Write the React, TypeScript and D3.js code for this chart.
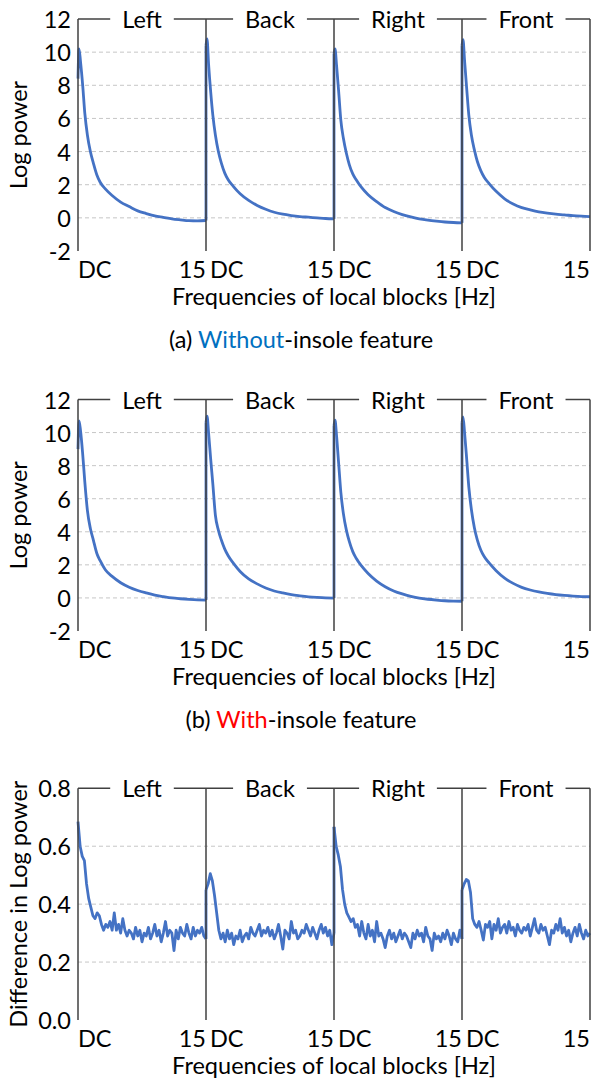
import { useEffect, useRef } from 'react';
import * as d3 from 'd3';

const W = 593;
const H = 1081;
const FONT = 'Lato, "Open Sans", sans-serif';
const FS = 23.5;

const sides = ['Left', 'Back', 'Right', 'Front'];
const bandHz = 15;
const tickStart = 'DC';
const tickEnd = '15';
const xTitle = 'Frequencies of local blocks [Hz]';

// sample frequencies (Hz) used by the two log power charts
const freqCurve = [0, 0.12, 0.3, 0.55, 0.8, 1.1, 1.45, 1.8, 2.2, 2.6, 3.2, 4, 5, 6, 7, 8, 9, 10, 11, 12, 13, 14, 15];

// (a) without insole feature
const withoutLeft = [8.4, 10.2, 9.4, 8.0, 6.3, 5.0, 4.0, 3.3, 2.6, 2.15, 1.75, 1.35, 0.95, 0.68, 0.42, 0.26, 0.12, 0.03, -0.06, -0.12, -0.17, -0.18, -0.16];
const withoutBack = [10.4, 10.8, 9.3, 7.6, 6.2, 5.0, 4.0, 3.3, 2.7, 2.3, 1.9, 1.45, 1.05, 0.75, 0.52, 0.34, 0.22, 0.14, 0.08, 0.04, 0.0, -0.04, -0.06];
const withoutRight = [9.9, 10.2, 9.2, 7.6, 5.9, 4.8, 3.9, 3.2, 2.65, 2.3, 1.85, 1.4, 0.98, 0.62, 0.38, 0.2, 0.06, -0.06, -0.14, -0.2, -0.25, -0.28, -0.3];
const withoutFront = [10.4, 10.75, 9.5, 7.8, 6.2, 5.0, 4.1, 3.4, 2.85, 2.45, 2.05, 1.6, 1.15, 0.84, 0.62, 0.48, 0.36, 0.28, 0.22, 0.18, 0.13, 0.1, 0.08];

// (b) with insole feature
const withLeft = [9.0, 10.7, 10.1, 8.7, 7.0, 5.3, 4.2, 3.5, 2.7, 2.25, 1.7, 1.3, 0.92, 0.65, 0.45, 0.3, 0.17, 0.08, 0.0, -0.05, -0.09, -0.12, -0.13];
const withBack = [10.6, 11.0, 10.0, 8.4, 6.9, 5.0, 4.1, 3.5, 2.95, 2.55, 2.1, 1.6, 1.15, 0.85, 0.6, 0.42, 0.3, 0.2, 0.13, 0.07, 0.03, 0.0, -0.01];
const withRight = [10.4, 10.75, 9.8, 8.1, 6.4, 5.1, 4.1, 3.4, 2.8, 2.4, 1.95, 1.48, 1.02, 0.68, 0.42, 0.24, 0.1, -0.01, -0.08, -0.13, -0.17, -0.19, -0.2];
const withFront = [10.6, 10.95, 10.0, 8.4, 6.7, 5.35, 4.25, 3.5, 2.9, 2.5, 2.1, 1.65, 1.2, 0.88, 0.64, 0.48, 0.36, 0.27, 0.2, 0.15, 0.11, 0.08, 0.07];

// difference in log power, sampled every 0.25 Hz
const diffLeft = [
  0.685, 0.6, 0.565, 0.55, 0.47, 0.42, 0.39, 0.36, 0.35, 0.37,
  0.36, 0.33, 0.31, 0.33, 0.32, 0.34, 0.31, 0.37, 0.31, 0.33,
  0.3, 0.35, 0.31, 0.29, 0.31, 0.3, 0.28, 0.32, 0.29, 0.31,
  0.27, 0.3, 0.29, 0.32, 0.28, 0.3, 0.33, 0.29, 0.31, 0.27,
  0.3, 0.34, 0.29, 0.31, 0.3, 0.24, 0.31, 0.28, 0.32, 0.3,
  0.29, 0.33, 0.3, 0.28, 0.32, 0.29, 0.31, 0.3, 0.32, 0.29,
  0.28,
];
const diffBack = [
  0.45, 0.47, 0.505, 0.48, 0.43, 0.37, 0.31, 0.28, 0.3, 0.27,
  0.31, 0.28, 0.3, 0.26, 0.29, 0.28, 0.31, 0.27, 0.29, 0.3,
  0.28, 0.32, 0.3, 0.29, 0.31, 0.33, 0.29, 0.31, 0.3, 0.32,
  0.29, 0.31, 0.28, 0.3, 0.33, 0.29, 0.245, 0.31, 0.3, 0.28,
  0.34, 0.3, 0.31, 0.28, 0.29, 0.31, 0.3, 0.33, 0.31, 0.29,
  0.32, 0.3, 0.28, 0.31, 0.33, 0.3, 0.32, 0.29, 0.31, 0.26,
  0.3,
];
const diffRight = [
  0.667, 0.6, 0.57, 0.53, 0.45, 0.4, 0.37, 0.355, 0.34, 0.35,
  0.32, 0.33, 0.29, 0.34, 0.3, 0.28, 0.33, 0.29, 0.31, 0.27,
  0.34, 0.29, 0.3, 0.28, 0.25, 0.29, 0.31, 0.28, 0.3, 0.27,
  0.29, 0.31, 0.28, 0.3, 0.29, 0.27, 0.25, 0.3, 0.28, 0.31,
  0.29, 0.3, 0.27, 0.32, 0.29, 0.28, 0.24, 0.3, 0.28, 0.29,
  0.27, 0.3, 0.28, 0.31, 0.29, 0.26, 0.3, 0.28, 0.27, 0.31,
  0.28,
];
const diffFront = [
  0.45, 0.47, 0.485, 0.48, 0.44, 0.35, 0.33, 0.32, 0.34, 0.31,
  0.276, 0.33, 0.32, 0.34, 0.28, 0.33, 0.31, 0.35, 0.3, 0.32,
  0.33, 0.3, 0.34, 0.31, 0.32, 0.29, 0.33, 0.31, 0.3, 0.32,
  0.31, 0.33, 0.29, 0.32, 0.35, 0.31, 0.3, 0.33, 0.31, 0.32,
  0.29, 0.26, 0.31, 0.3, 0.33, 0.31, 0.35, 0.3, 0.32, 0.29,
  0.31, 0.27, 0.3, 0.32, 0.29, 0.33, 0.3, 0.28, 0.31, 0.29,
  0.3,
];

const logTicks = [-2, 0, 2, 4, 6, 8, 10, 12];
const logGrid = [0, 2, 4, 6, 8, 10];
const diffTicks = [0, 0.2, 0.4, 0.6, 0.8];
const diffGrid = [0.2, 0.4, 0.6];

const panels = [
  {
    top: 19, bottom: 251, domain: [-2, 12], ticks: logTicks, grid: logGrid, fmt: (d: number) => String(d),
    yTitle: 'Log power', series: [withoutLeft, withoutBack, withoutRight, withoutFront], freq: freqCurve,
    caption: ['(a) ', 'Without', '-insole feature'], capColor: '#0070c0', capY: 339,
  },
  {
    top: 399.5, bottom: 631, domain: [-2, 12], ticks: logTicks, grid: logGrid, fmt: (d: number) => String(d),
    yTitle: 'Log power', series: [withLeft, withBack, withRight, withFront], freq: freqCurve,
    caption: ['(b) ', 'With', '-insole feature'], capColor: '#ff0000', capY: 719,
  },
  {
    top: 788.3, bottom: 1020, domain: [0, 0.8], ticks: diffTicks, grid: diffGrid, fmt: (d: number) => d.toFixed(1),
    yTitle: 'Difference in Log power', series: [diffLeft, diffBack, diffRight, diffFront], freq: null,
    caption: null, capColor: '', capY: 0,
  },
];

const AXIS = '#404040';
const BLUE = '#4472c4';

function drawPanel(svg: any, p: any) {
  const x = d3.scaleLinear().domain([0, sides.length * bandHz]).range([78, 590]);
  const y = d3.scaleLinear().domain(p.domain).range([p.bottom, p.top]);
  const g = svg.append('g');

  g.selectAll('line.grid')
    .data(p.grid)
    .join('line')
    .attr('x1', x(0))
    .attr('x2', x(sides.length * bandHz))
    .attr('y1', (d: number) => y(d))
    .attr('y2', (d: number) => y(d))
    .attr('stroke', '#c6c6c6')
    .attr('stroke-width', 1)
    .attr('stroke-dasharray', '4,3');

  const smooth = p.freq !== null;
  const line = d3
    .line<[number, number]>()
    .x((d) => x(d[0]))
    .y((d) => y(d[1]))
    .curve(smooth ? d3.curveMonotoneX : d3.curveLinear);

  sides.forEach((_, s) => {
    const vals: number[] = p.series[s];
    const freqs: number[] = p.freq ?? vals.map((_v, i) => (i * bandHz) / (vals.length - 1));
    const pts = vals.map((v, i) => [s * bandHz + freqs[i], v] as [number, number]);
    if (s > 0) {
      const prev: number[] = p.series[s - 1];
      g.append('line')
        .attr('x1', x(s * bandHz))
        .attr('x2', x(s * bandHz))
        .attr('y1', y(prev[prev.length - 1]))
        .attr('y2', y(vals[0]))
        .attr('stroke', BLUE)
        .attr('stroke-width', 2.8);
    }
    g.append('path')
      .datum(pts)
      .attr('d', line)
      .attr('fill', 'none')
      .attr('stroke', BLUE)
      .attr('stroke-width', 2.8)
      .attr('stroke-linejoin', 'round');
  });

  // left axis, dividers and right border
  g.selectAll('line.div')
    .data(d3.range(sides.length + 1))
    .join('line')
    .attr('x1', (s: number) => x(s * bandHz))
    .attr('x2', (s: number) => x(s * bandHz))
    .attr('y1', p.top)
    .attr('y2', p.bottom)
    .attr('stroke', AXIS)
    .attr('stroke-width', 1.5);

  // side labels and the broken top line
  const gaps: [number, number][] = [];
  sides.forEach((side, s) => {
    const cx = x((s + 0.5) * bandHz);
    const t = g.append('text')
      .attr('x', cx)
      .attr('y', p.top)
      .attr('text-anchor', 'middle')
      .attr('dominant-baseline', 'central')
      .attr('font-size', FS)
      .text(side);
    const w = (t.node() as SVGTextElement).getComputedTextLength();
    gaps.push([cx - w / 2 - 12, cx + w / 2 + 12]);
  });
  let from = x(0);
  gaps.forEach(([a, b]) => {
    g.append('line').attr('x1', from).attr('x2', a).attr('y1', p.top).attr('y2', p.top)
      .attr('stroke', AXIS).attr('stroke-width', 1.5);
    from = b;
  });
  g.append('line').attr('x1', from).attr('x2', x(sides.length * bandHz)).attr('y1', p.top).attr('y2', p.top)
    .attr('stroke', AXIS).attr('stroke-width', 1.5);

  // y ticks
  g.selectAll('text.yt')
    .data(p.ticks)
    .join('text')
    .attr('x', 71)
    .attr('y', (d: number) => y(d))
    .attr('text-anchor', 'end')
    .attr('dominant-baseline', 'central')
    .attr('font-size', FS)
    .text((d: number) => p.fmt(d));

  // x ticks
  const ty = p.bottom + 18;
  sides.forEach((_, s) => {
    g.append('text')
      .attr('x', x(s * bandHz) + (s === 0 ? 0 : 4))
      .attr('y', ty)
      .attr('dominant-baseline', 'central')
      .attr('font-size', FS)
      .text(tickStart);
    g.append('text')
      .attr('x', x((s + 1) * bandHz))
      .attr('y', ty)
      .attr('text-anchor', 'end')
      .attr('dominant-baseline', 'central')
      .attr('font-size', FS)
      .text(tickEnd);
  });

  g.append('text')
    .attr('x', x(sides.length * bandHz / 2))
    .attr('y', p.bottom + 45)
    .attr('text-anchor', 'middle')
    .attr('dominant-baseline', 'central')
    .attr('font-size', FS)
    .text(xTitle);

  g.append('text')
    .attr('transform', `translate(18,${(p.top + p.bottom) / 2}) rotate(-90)`)
    .attr('text-anchor', 'middle')
    .attr('dominant-baseline', 'central')
    .attr('font-size', FS)
    .text(p.yTitle);

  if (p.caption) {
    const c = g.append('text')
      .attr('x', 301)
      .attr('y', p.capY)
      .attr('text-anchor', 'middle')
      .attr('dominant-baseline', 'central')
      .attr('font-size', FS);
    c.append('tspan').text(p.caption[0]);
    c.append('tspan').attr('fill', p.capColor).text(p.caption[1]);
    c.append('tspan').text(p.caption[2]);
  }
}

export default function App() {
  const ref = useRef<SVGSVGElement>(null);

  useEffect(() => {
    const svg = d3.select(ref.current);
    svg.selectAll('*').remove();
    svg.append('rect').attr('width', W).attr('height', H).attr('fill', '#fff');
    panels.forEach((p) => drawPanel(svg, p));
  }, []);

  return (
    <svg
      ref={ref}
      width={W}
      height={H}
      style={{ position: 'absolute', left: 0, top: 0, fontFamily: FONT, fill: '#000' }}
    />
  );
}
